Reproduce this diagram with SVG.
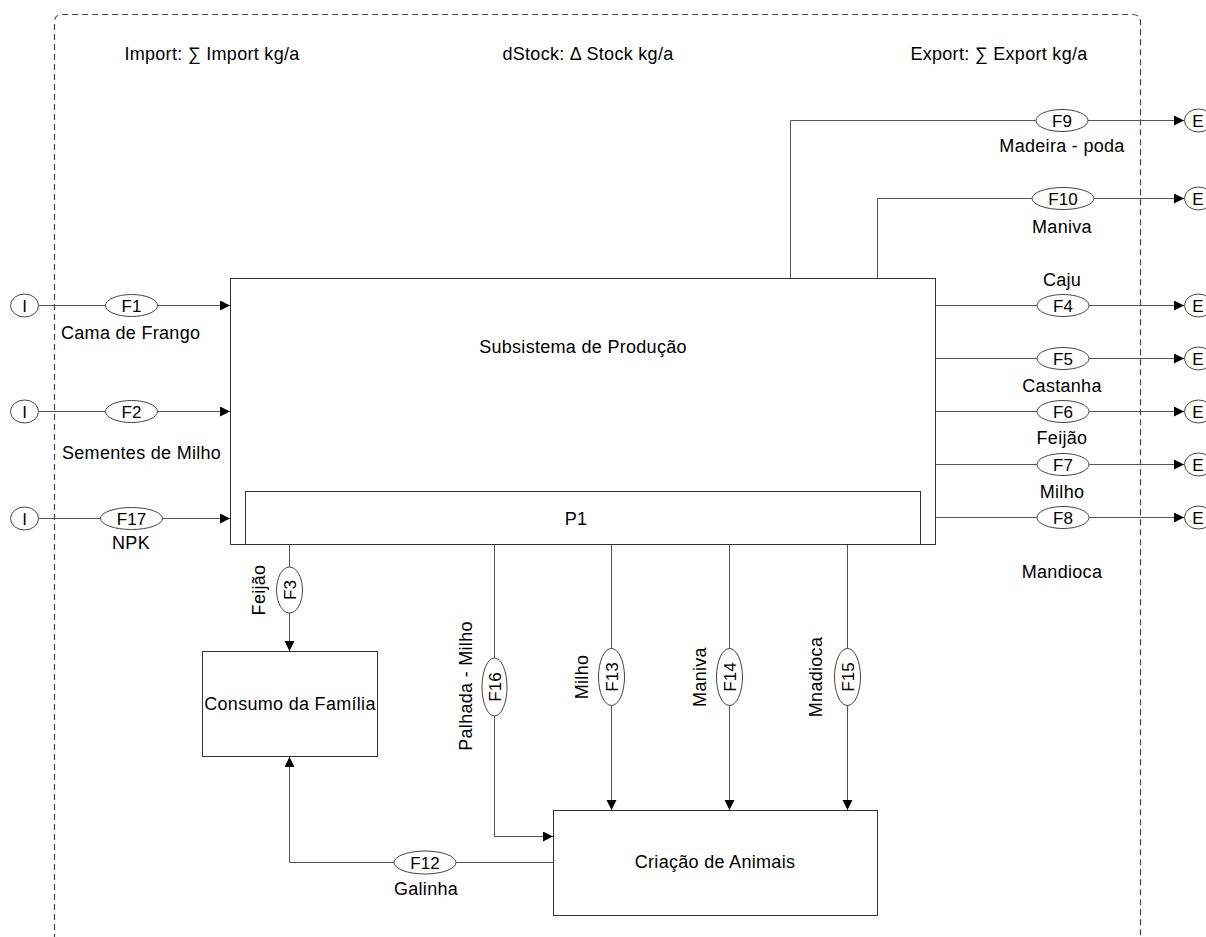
<svg xmlns="http://www.w3.org/2000/svg" width="1206" height="937" viewBox="0 0 1206 937">
<defs>
<marker id="arr" markerUnits="userSpaceOnUse" markerWidth="11" markerHeight="11" refX="10" refY="5" orient="auto">
<path d="M0,0 L10,5 L0,10 z" fill="#000"/>
</marker>
<style>
text{font-family:"Liberation Sans",Arial,sans-serif;font-size:18px;fill:#000;letter-spacing:0.3px;}
.c{text-anchor:middle;}
.f{font-size:17px;text-anchor:middle;letter-spacing:0;}
.box{fill:#fff;stroke:#333;stroke-width:1;}
.el{fill:#fff;stroke:#444;stroke-width:1;}
.ln{fill:none;stroke:#555;stroke-width:1;}
.ar{marker-end:url(#arr);}
.border{fill:none;stroke:#444;stroke-width:1.2;stroke-dasharray:6,4;}
</style>
</defs>
<rect width="1206" height="937" fill="#fff"/>
<g id="boundary">
<path class="border" d="M54.5,960 V22 Q54.5,14.5 62,14.5 H1132 Q1140.5,14.5 1140.5,22 V960"/>
<text class="c" x="212" y="60">Import: ∑ Import kg/a</text>
<text class="c" x="588" y="60">dStock: Δ Stock kg/a</text>
<text class="c" x="999" y="60">Export: ∑ Export kg/a</text>
</g>
<g id="connectors">
<path class="ln ar" d="M39,305.5 H230"/>
<path class="ln ar" d="M39,411.5 H230"/>
<path class="ln ar" d="M39,518.5 H230"/>
<path class="ln ar" d="M790.5,278.5 V120.5 H1184"/>
<path class="ln ar" d="M877.5,278.5 V198.5 H1184"/>
<path class="ln ar" d="M935.5,305.5 H1184"/>
<path class="ln ar" d="M935.5,358.5 H1184"/>
<path class="ln ar" d="M935.5,411.5 H1184"/>
<path class="ln ar" d="M935.5,464.5 H1184"/>
<path class="ln ar" d="M935.5,517.5 H1184"/>
<path class="ln ar" d="M289.5,544.5 V651"/>
<path class="ln ar" d="M494.5,544.5 V836.5 H553"/>
<path class="ln ar" d="M611.5,544.5 V810"/>
<path class="ln ar" d="M729.5,544.5 V810"/>
<path class="ln ar" d="M847.5,544.5 V810"/>
<path class="ln ar" d="M553,862.5 H289.5 V757"/>
</g>
<g id="prod">
<rect class="box" x="230.5" y="278.5" width="705" height="266"/>
<text class="c" x="583" y="353">Subsistema de Produção</text>
</g>
<g id="p1">
<rect class="box" x="245.5" y="491.5" width="675" height="53"/>
<text class="c" x="576" y="525">P1</text>
</g>
<g id="consumo">
<rect class="box" x="202.5" y="651.5" width="175" height="105"/>
<text class="c" x="290" y="710">Consumo da Família</text>
</g>
<g id="criacao">
<rect class="box" x="553.5" y="810.5" width="324" height="105"/>
<text class="c" x="715" y="868">Criação de Animais</text>
</g>
<g id="i1"><ellipse class="el" cx="24.5" cy="305.5" rx="14" ry="11.5"/><text class="f" x="24.5" y="311.5">I</text></g>
<g id="i2"><ellipse class="el" cx="24.5" cy="411.5" rx="14" ry="11.5"/><text class="f" x="24.5" y="417.5">I</text></g>
<g id="i3"><ellipse class="el" cx="24.5" cy="518.5" rx="14" ry="11.5"/><text class="f" x="24.5" y="524.5">I</text></g>
<g id="e9"><ellipse class="el" cx="1198.5" cy="120.5" rx="14" ry="11.5"/><text class="f" x="1198" y="126.5">E</text></g>
<g id="e10"><ellipse class="el" cx="1198.5" cy="198.5" rx="14" ry="11.5"/><text class="f" x="1198" y="204.5">E</text></g>
<g id="e4"><ellipse class="el" cx="1198.5" cy="305.5" rx="14" ry="11.5"/><text class="f" x="1198" y="311.5">E</text></g>
<g id="e5"><ellipse class="el" cx="1198.5" cy="358.5" rx="14" ry="11.5"/><text class="f" x="1198" y="364.5">E</text></g>
<g id="e6"><ellipse class="el" cx="1198.5" cy="411.5" rx="14" ry="11.5"/><text class="f" x="1198" y="417.5">E</text></g>
<g id="e7"><ellipse class="el" cx="1198.5" cy="464.5" rx="14" ry="11.5"/><text class="f" x="1198" y="470.5">E</text></g>
<g id="e8"><ellipse class="el" cx="1198.5" cy="517.5" rx="14" ry="11.5"/><text class="f" x="1198" y="523.5">E</text></g>
<g id="f1"><ellipse class="el" cx="131.5" cy="305.5" rx="26" ry="11"/><text class="f" x="131.5" y="311.5">F1</text><text x="61" y="339">Cama de Frango</text></g>
<g id="f2"><ellipse class="el" cx="131.5" cy="411.5" rx="26" ry="11"/><text class="f" x="131.5" y="417.5">F2</text><text x="62" y="459">Sementes de Milho</text></g>
<g id="f17"><ellipse class="el" cx="131.5" cy="518.5" rx="31" ry="11"/><text class="f" x="131.5" y="524.5">F17</text><text class="c" x="131" y="549">NPK</text></g>
<g id="f9"><ellipse class="el" cx="1062" cy="120.5" rx="26" ry="11"/><text class="f" x="1062" y="126.5">F9</text><text class="c" x="1062" y="152">Madeira - poda</text></g>
<g id="f10"><ellipse class="el" cx="1063" cy="198.5" rx="31" ry="11"/><text class="f" x="1063" y="204.5">F10</text><text class="c" x="1062" y="233">Maniva</text></g>
<g id="f4"><ellipse class="el" cx="1063" cy="305.5" rx="26" ry="11"/><text class="f" x="1063" y="311.5">F4</text><text class="c" x="1062" y="286">Caju</text></g>
<g id="f5"><ellipse class="el" cx="1063" cy="358.5" rx="26" ry="11"/><text class="f" x="1063" y="364.5">F5</text><text class="c" x="1062" y="392">Castanha</text></g>
<g id="f6"><ellipse class="el" cx="1063" cy="411.5" rx="26" ry="11"/><text class="f" x="1063" y="417.5">F6</text><text class="c" x="1062" y="444">Feijão</text></g>
<g id="f7"><ellipse class="el" cx="1063" cy="464.5" rx="26" ry="11"/><text class="f" x="1063" y="470.5">F7</text><text class="c" x="1062" y="498">Milho</text></g>
<g id="f8"><ellipse class="el" cx="1063" cy="517.5" rx="26" ry="11"/><text class="f" x="1063" y="523.5">F8</text><text class="c" x="1062" y="578">Mandioca</text></g>
<g id="f12"><ellipse class="el" cx="425" cy="862.5" rx="31" ry="11.5"/><text class="f" x="425" y="868.5">F12</text><text class="c" x="426" y="895">Galinha</text></g>
<g id="f3"><ellipse class="el" cx="289.5" cy="590" rx="13" ry="23"/><text class="f" transform="translate(295.5,590) rotate(-90)">F3</text><text class="c" transform="translate(265,590) rotate(-90)">Feijão</text></g>
<g id="f16"><ellipse class="el" cx="494.5" cy="687" rx="12.5" ry="29"/><text class="f" transform="translate(500.5,687) rotate(-90)">F16</text><text class="c" transform="translate(472,686) rotate(-90)">Palhada - Milho</text></g>
<g id="f13"><ellipse class="el" cx="611.5" cy="677" rx="13" ry="28.5"/><text class="f" transform="translate(617.5,677) rotate(-90)">F13</text><text class="c" transform="translate(588,677) rotate(-90)">Milho</text></g>
<g id="f14"><ellipse class="el" cx="729.5" cy="677" rx="13" ry="28.5"/><text class="f" transform="translate(735.5,677) rotate(-90)">F14</text><text class="c" transform="translate(706,677) rotate(-90)">Maniva</text></g>
<g id="f15"><ellipse class="el" cx="847.5" cy="677" rx="13" ry="28.5"/><text class="f" transform="translate(853.5,677) rotate(-90)">F15</text><text class="c" transform="translate(822,677) rotate(-90)">Mnadioca</text></g>
</svg>
